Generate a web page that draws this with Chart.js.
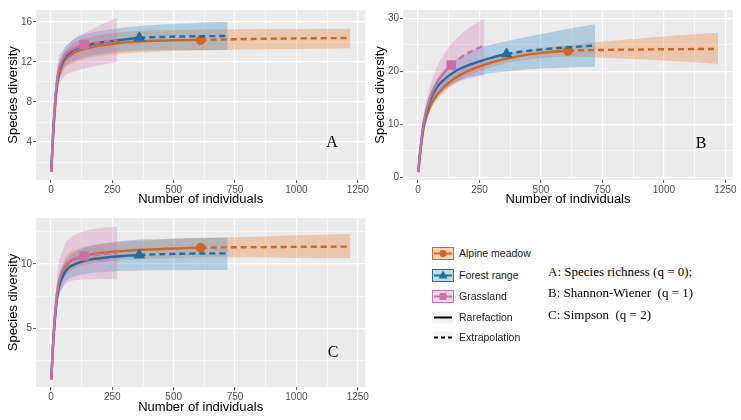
<!DOCTYPE html>
<html><head><meta charset="utf-8">
<script src="https://cdn.jsdelivr.net/npm/chart.js@4.4.0/dist/chart.umd.min.js"></script>
<style>
body{margin:0;background:#fff;width:741px;height:420px;position:relative;overflow:hidden;font-family:"Liberation Sans",Arial,sans-serif}
canvas{position:absolute}
.t{position:absolute;white-space:pre;color:#000}
.let{position:absolute;font-family:"Liberation Serif","Times New Roman",serif;font-size:16px;transform:translate(-50%,-50%)}
.note{position:absolute;left:548px;font-family:"Liberation Serif","Times New Roman",serif;font-size:13px;line-height:16px;white-space:pre}
.key{position:absolute;left:432px;width:22px;height:13px}
.lt{position:absolute;left:459px;font-size:10.5px;line-height:14px;white-space:pre;color:#1a1a1a}
</style></head><body>
<canvas id="cA" width="370" height="206" style="left:0;top:0"></canvas>
<canvas id="cB" width="371" height="206" style="left:370px;top:0"></canvas>
<canvas id="cC" width="370" height="215" style="left:0;top:205px"></canvas>

<div class="let" style="left:332px;top:142px">A</div>
<div class="let" style="left:701px;top:143px">B</div>
<div class="let" style="left:333px;top:352px">C</div>

<div id="legend"></div>

<div class="note" style="top:264px">A: Species richness (q = 0);</div>
<div class="note" style="top:285px">B: Shannon-Wiener  (q = 1)</div>
<div class="note" style="top:307px">C: Simpson  (q = 2)</div>

<script>
// ---- data ----
const communities = ['Alpine meadow', 'Forest range', 'Grassland'];
const observedN = [610, 360, 135];

const xAlpine = [1,10,25,50,75,100,150,200,300,400,500,610,750,900,1050,1220];
const xForest = [1,10,25,50,75,100,150,200,250,300,360,450,540,630,720];
const xGrass  = [1,10,25,50,75,100,135,170,200,235,270];

// Panel A: species richness (q = 0)
const aAlpine   = [1,5.2,9.6,11.9,12.6,13.0,13.4,13.65,13.95,14.1,14.17,14.2,14.28,14.33,14.37,14.4];
const aAlpineLo = [1,4.8,8.9,11.1,11.7,12.0,12.4,12.6,12.85,13.0,13.1,13.15,13.22,13.27,13.32,13.38];
const aAlpineHi = [1,5.6,10.3,12.7,13.5,14.0,14.4,14.7,15.0,15.15,15.2,15.25,15.27,15.29,15.3,15.32];
const aForest   = [1,5.4,10.0,12.2,12.9,13.3,13.7,13.95,14.1,14.25,14.42,14.5,14.55,14.58,14.6];
const aForestLo = [1,4.9,9.2,11.3,11.9,12.2,12.55,12.8,12.95,13.05,13.15,13.2,13.2,13.2,13.2];
const aForestHi = [1,5.9,10.8,13.1,13.9,14.4,14.85,15.1,15.3,15.45,15.6,15.75,15.85,15.95,16.0];
const aGrass    = [1,5.5,10.2,12.4,13.1,13.4,13.75,13.9,14.0,14.1,14.15];
const aGrassLo  = [1,4.7,8.8,10.4,10.9,11.1,11.35,11.55,11.7,11.85,12.0];
const aGrassHi  = [1,6.3,11.6,13.2,13.9,14.4,14.9,15.3,15.7,16.05,16.4];

// Panel B: Shannon-Wiener (q = 1)
const bAlpine   = [1,5,9.8,13.4,15.4,16.8,18.7,20.0,21.7,22.8,23.5,23.9,24.05,24.15,24.2,24.25];
const bAlpineLo = [1,4.6,9.2,12.7,14.6,15.9,17.8,19.1,20.8,21.9,22.5,22.8,22.6,22.3,21.9,21.4];
const bAlpineHi = [1,5.4,10.4,14.1,16.2,17.7,19.6,20.9,22.6,23.7,24.4,25.0,25.6,26.2,26.8,27.3];
const bForest   = [1,5.3,10.5,14.6,16.8,18.2,20.0,21.1,21.9,22.6,23.3,23.9,24.3,24.6,24.9];
const bForestLo = [1,4.8,9.6,13.3,15.2,16.4,17.9,18.8,19.3,19.7,20.0,20.4,20.6,20.8,20.9];
const bForestHi = [1,5.8,11.4,15.9,18.4,20.0,22.1,23.4,24.5,25.1,25.7,26.6,27.4,28.2,28.9];
const bGrass    = [1,5.5,10.9,15.2,17.7,19.4,21.2,22.5,23.4,24.2,24.9];
const bGrassLo  = [1,4.9,9.6,13.1,14.9,16.1,17.3,18.1,18.6,19.0,19.3];
const bGrassHi  = [1,6.1,12.2,17.4,20.6,22.8,25.2,26.8,28.0,29.1,30.0];

// Panel C: Simpson (q = 2)
const cAlpine   = [1,4.2,7.6,9.4,10.15,10.4,10.7,10.85,11.02,11.12,11.2,11.27,11.3,11.32,11.34,11.35];
const cAlpineLo = [1,3.9,7.0,8.7,9.4,9.7,10.0,10.15,10.3,10.4,10.45,10.5,10.52,10.5,10.47,10.44];
const cAlpineHi = [1,4.5,8.2,10.1,10.9,11.1,11.4,11.55,11.75,11.85,11.95,12.0,12.08,12.16,12.25,12.33];
const cForest   = [1,4.1,7.4,9.1,9.75,10.0,10.3,10.45,10.56,10.63,10.7,10.76,10.8,10.82,10.83];
const cForestLo = [1,3.8,6.8,8.3,8.85,9.05,9.25,9.35,9.42,9.47,9.5,9.51,9.52,9.53,9.53];
const cForestHi = [1,4.4,8.0,9.9,10.65,10.95,11.35,11.55,11.7,11.8,11.9,11.95,12.0,12.04,12.07];
const cGrass    = [1,4.3,7.8,9.6,10.2,10.45,10.62,10.7,10.76,10.81,10.85];
const cGrassLo  = [1,3.7,6.6,8.2,8.6,8.75,8.8,8.82,8.83,8.83,8.8];
const cGrassHi  = [1,4.9,9.0,11.2,12.0,12.3,12.55,12.7,12.8,12.85,12.9];

// ticks
const xTicks = [0,250,500,750,1000,1250];
const xMinor = [125,375,625,875,1125];
const yTicksA = [4,8,12,16],  yMinorA = [2,6,10,14];
const yTicksB = [0,10,20,30], yMinorB = [5,15,25];
const yTicksC = [5,10],       yMinorC = [2.5,7.5,12.5];

const noteLines = ['A: Species richness (q = 0);','B: Shannon-Wiener  (q = 1)','C: Simpson  (q = 2)'];

// ---- styles ----
const lineColors = ['#D2651F','#1F6FA6','#CC6FA6'];
const bandColors = ['rgba(232,120,40,0.32)','rgba(60,140,200,0.32)','rgba(205,110,170,0.28)'];
const pointStyles = ['circle','triangle','rect'];
const pointSizes = [4.5,6,6];
const FONT = 'Liberation Sans';

const bgPlugin = {id:'bg', beforeDraw(chart){
  const {ctx, chartArea:a} = chart;
  ctx.save(); ctx.fillStyle = '#EBEBEB';
  ctx.fillRect(a.left, a.top, a.right-a.left, a.bottom-a.top);
  ctx.restore();
}};

function panel(id, xsList, ysList, loList, hiList, yMin, yMax, yMajor, yMinor, g){
  const datasets = [];
  for (let i=0;i<3;i++){
    const xs = xsList[i];
    datasets.push({data: xs.map((x,j)=>({x, y: loList[i][j]})), borderWidth:0, borderColor:'rgba(0,0,0,0)',
      pointRadius:0, fill:false, order:30-10*i, cubicInterpolationMode:'monotone'});
    datasets.push({data: xs.map((x,j)=>({x, y: hiList[i][j]})), borderWidth:0, borderColor:'rgba(0,0,0,0)',
      pointRadius:0, fill:'-1', backgroundColor:bandColors[i], order:30-10*i, cubicInterpolationMode:'monotone'});
  }
  for (let i=0;i<3;i++){
    const xs = xsList[i], n = observedN[i];
    datasets.push({data: xs.map((x,j)=>({x, y: ysList[i][j]})), borderColor:lineColors[i], backgroundColor:lineColors[i],
      borderWidth:2.4, fill:false, cubicInterpolationMode:'monotone', pointStyle:pointStyles[i],
      pointRadius: xs.map(x => x===n ? pointSizes[i] : 0), pointBorderWidth:1, pointBorderColor:lineColors[i],
      order:2-i, segment:{borderDash: c => c.p0.parsed.x >= n ? [6,4] : undefined}});
  }
  const yAll = [...yMajor, ...yMinor].sort((a,b)=>a-b);
  const xAll = [...xTicks, ...xMinor].sort((a,b)=>a-b);
  return new Chart(document.getElementById(id), {
    type:'line',
    data:{datasets},
    plugins:[bgPlugin],
    options:{
      responsive:false, animation:false, devicePixelRatio:1,
      layout:{padding:{left:0, top:g.top, right:g.right, bottom:0}},
      plugins:{legend:{display:false}, tooltip:{enabled:false}},
      scales:{
        x:{type:'linear', min:-61, max:1281,
          afterBuildTicks: s => { s.ticks = xAll.map(v=>({value:v})); },
          afterFit: s => { s.height = g.xh; },
          ticks:{autoSkip:false, maxRotation:0, padding:1, color:'#4D4D4D', font:{size:10, family:FONT},
            callback: v => xTicks.includes(v) ? String(v) : ''},
          grid:{color:'#FFFFFF', lineWidth: c => xTicks.includes(c.tick.value) ? 1.2 : 0.6, tickLength:3,
            tickColor: c => xTicks.includes(c.tick.value) ? '#4D4D4D' : 'rgba(0,0,0,0)', tickWidth:1},
          border:{display:false},
          title:{display:true, text:'Number of individuals', color:'#000', font:{size:13, family:FONT, lineHeight:1},
            padding:{top:0, bottom:g.xtp}}
        },
        y:{type:'linear', min:yMin, max:yMax,
          afterBuildTicks: s => { s.ticks = yAll.map(v=>({value:v})); },
          afterFit: s => { s.width = g.left; },
          ticks:{autoSkip:false, padding:1, color:'#4D4D4D', font:{size:10, family:FONT},
            callback: v => yMajor.includes(v) ? String(v) : ''},
          grid:{color:'#FFFFFF', lineWidth: c => yMajor.includes(c.tick.value) ? 1.2 : 0.6, tickLength:3,
            tickColor: c => yMajor.includes(c.tick.value) ? '#4D4D4D' : 'rgba(0,0,0,0)', tickWidth:1},
          border:{display:false},
          title:{display:true, text:'Species diversity', color:'#000', font:{size:13, family:FONT, lineHeight:1},
            padding:{top:g.ytp, bottom:0}}
        }
      }
    }
  });
}

panel('cA', [xAlpine,xForest,xGrass], [aAlpine,aForest,aGrass], [aAlpineLo,aForestLo,aGrassLo], [aAlpineHi,aForestHi,aGrassHi],
  0.2, 17.2, yTicksA, yMinorA, {top:10, right:4, left:36, xh:26, xtp:0, ytp:6.5});
panel('cB', [xAlpine,xForest,xGrass], [bAlpine,bForest,bGrass], [bAlpineLo,bForestLo,bGrassLo], [bAlpineHi,bForestHi,bGrassHi],
  -0.5, 31.6, yTicksB, yMinorB, {top:10, right:8, left:33, xh:26, xtp:0, ytp:3.5});
panel('cC', [xAlpine,xForest,xGrass], [cAlpine,cForest,cGrass], [cAlpineLo,cForestLo,cGrassLo], [cAlpineHi,cForestHi,cGrassHi],
  0.42, 13.58, yTicksC, yMinorC, {top:13, right:4, left:36, xh:33, xtp:6.5, ytp:6.5});

// ---- legend (HTML) ----
const legendRows = [
  {label:communities[0], fill:'rgba(232,120,40,0.32)', stroke:lineColors[0], marker:'circle', dash:false},
  {label:communities[1], fill:'rgba(60,140,200,0.32)', stroke:lineColors[1], marker:'triangle', dash:false},
  {label:communities[2], fill:'rgba(205,110,170,0.28)', stroke:lineColors[2], marker:'rect', dash:false},
  {label:'Rarefaction', fill:'#F2F2F2', stroke:null, marker:null, dash:false},
  {label:'Extrapolation', fill:'#F2F2F2', stroke:null, marker:null, dash:true}
];
const rowY = [253,275,296,317,337];
const leg = document.getElementById('legend');
legendRows.forEach((r,i)=>{
  const y = rowY[i];
  let m = '';
  if (r.marker==='circle') m = `<circle cx="11" cy="6.5" r="3.6" fill="${r.stroke}"/>`;
  if (r.marker==='triangle') m = `<polygon points="11,1.5 15.5,9.5 6.5,9.5" fill="${r.stroke}"/>`;
  if (r.marker==='rect') m = `<rect x="7.5" y="3" width="7" height="7" fill="${r.stroke}"/>`;
  const border = r.stroke ? `stroke="${r.stroke}" stroke-width="1"` : 'stroke="none"';
  const lineCol = r.stroke || '#000';
  const line = r.stroke ? `<line x1="2" y1="6.5" x2="20" y2="6.5" stroke="${lineCol}" stroke-width="2"/>`
    : `<line x1="2" y1="6.5" x2="20" y2="6.5" stroke="#000" stroke-width="2" ${r.dash ? 'stroke-dasharray="4,3"' : ''}/>`;
  leg.insertAdjacentHTML('beforeend',
    `<svg class="key" style="top:${y-6.5}px" width="22" height="13"><rect x="0.5" y="0.5" width="21" height="12" fill="${r.fill}" ${border}/>${line}${m}</svg>` +
    `<div class="lt" style="top:${y-7}px">${r.label}</div>`);
});
</script>
</body></html>
